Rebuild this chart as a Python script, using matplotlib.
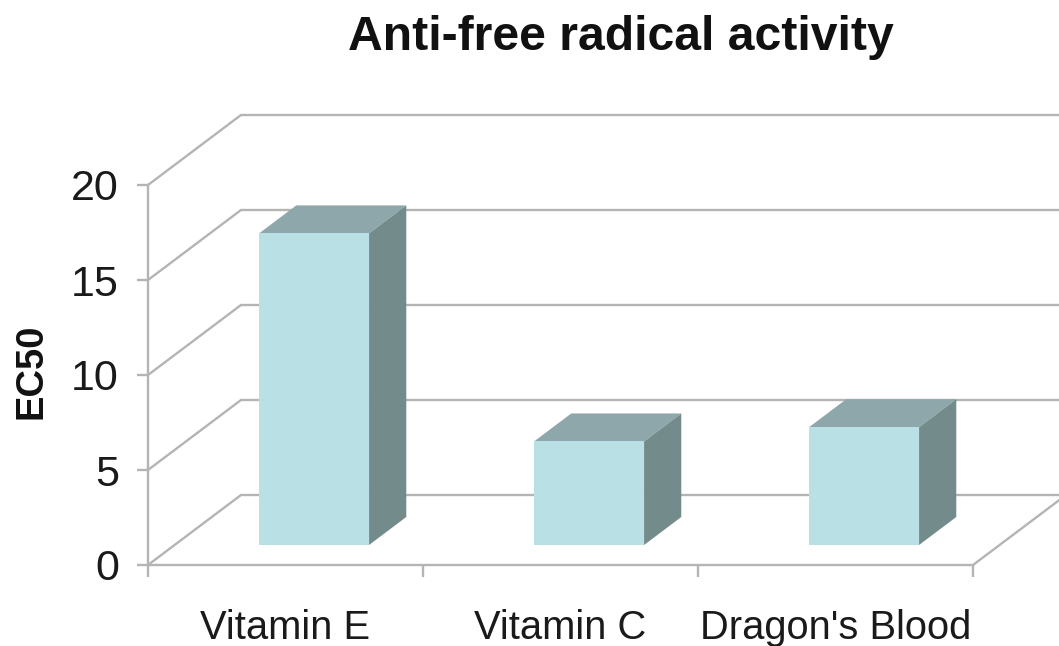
import numpy as np
import matplotlib
matplotlib.use('Agg')
import matplotlib.pyplot as plt
from matplotlib.patches import Polygon

categories = ['Vitamin E', 'Vitamin C', "Dragon's Blood"]
ec50 = [16.4, 5.45, 6.2]
y_ticks = [0, 5, 10, 15, 20]

plt.rcParams['font.family'] = ['Liberation Sans', 'DejaVu Sans']

W, H = 1059, 646
fig = plt.figure(figsize=(W / 100, H / 100), dpi=100)
ax = fig.add_axes([148 / W, (H - 565) / H, 825 / W, 380 / H])
ax.set_xlim(-0.5, 2.5)
ax.set_ylim(0, 20)

# profundidad del "3D" en unidades de datos
dx = 93 / 275
dy = 70 / 19
bar_w = 0.4
d_front, d_back = 20 / 70, 48 / 70
bar_shift = 2 / 275

grid_color = '#b4b4b4'
x0, x1 = -0.5, 2.5

# paredes: lineas de rejilla
for v in y_ticks:
    ax.plot([x0, x0 + dx, x1 + dx], [v, v + dy, v + dy], color=grid_color, lw=1.7,
            clip_on=False, zorder=1, solid_joinstyle='miter')
ax.plot([x1, x1 + dx], [0, dy], color=grid_color, lw=1.7, clip_on=False, zorder=1)

# barras
for i, v in enumerate(ec50):
    xl = i - bar_w / 2 + d_front * dx + bar_shift
    xr = i + bar_w / 2 + d_front * dx + bar_shift
    yb = d_front * dy
    yt = yb + v
    ox = (d_back - d_front) * dx
    oy = (d_back - d_front) * dy
    ax.add_patch(Polygon([(xl, yt), (xr, yt), (xr + ox, yt + oy), (xl + ox, yt + oy)],
                         fc='#8ea7aa', ec='none', clip_on=False, zorder=3))
    ax.add_patch(Polygon([(xr, yb), (xr + ox, yb + oy), (xr + ox, yt + oy), (xr, yt)],
                         fc='#748b8c', ec='none', clip_on=False, zorder=3))
    ax.add_patch(Polygon([(xl, yb), (xr, yb), (xr, yt), (xl, yt)],
                         fc='#b9e0e4', ec='none', clip_on=False, zorder=4))

for s in ['top', 'right']:
    ax.spines[s].set_visible(False)
for s in ['left', 'bottom']:
    ax.spines[s].set_color(grid_color)
    ax.spines[s].set_linewidth(1.7)
ax.patch.set_visible(False)

ax.set_yticks(y_ticks)
ax.set_xticks([-0.5, 0.5, 1.5, 2.5])
ax.set_xticklabels([])
ax.set_xticks([0, 1, 2], minor=True)
ax.set_xticklabels(categories, minor=True)
ax.tick_params(axis='x', which='major', length=8.5, width=1.7, color=grid_color)
ax.tick_params(axis='x', which='minor', length=0, labelsize=28.7, pad=32, labelcolor='#1a1a1a')
ax.tick_params(axis='y', length=8, width=1.7, color=grid_color, labelsize=31, pad=13,
               labelcolor='#1a1a1a')

fig.text(621 / W, 1 - 37 / H, 'Anti-free radical activity', fontsize=34.7, fontweight='bold',
         ha='center', va='center', color='#111111')
fig.text(32 / W, 1 - 371 / H, 'EC50', fontsize=27.5, fontweight='bold', rotation=90,
         ha='center', va='center', color='#111111')

fig.savefig('out.png', dpi=100)
